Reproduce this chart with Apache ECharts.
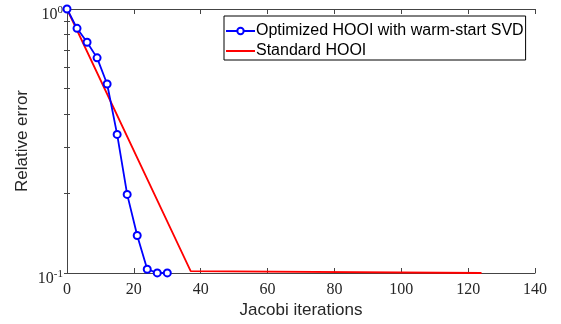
<!DOCTYPE html>
<html><head><meta charset="utf-8">
<script src="https://cdn.jsdelivr.net/npm/echarts@6/dist/echarts.min.js"></script>
<style>html,body{margin:0;padding:0;background:#fff}#c{width:561px;height:324px}</style>
</head><body><div id="c"></div>
<script>
// ---- data ----
const xTickValues = [0, 20, 40, 60, 80, 100, 120, 140];
const optIter = [0, 3, 6, 9, 12, 15, 18, 21, 24, 27, 30];
const optErr  = [1.0, 0.845, 0.748, 0.653, 0.52, 0.335, 0.1985, 0.1387, 0.1033, 0.1001, 0.1001];
const stdIter = [0, 37, 124];
const stdErr  = [1.0, 0.1016, 0.1];
const yMajorTicks = [0.1, 1];
const yMinorTicks = [0.1, 0.2, 0.3, 0.4, 0.5, 0.6, 0.7, 0.8, 0.9, 1];
const seriesNames = ['Optimized HOOI with warm-start SVD', 'Standard HOOI'];

const axisColor = '#444';
const labelColor = '#262626';
const serif = '"Liberation Serif", "DejaVu Serif", serif';
const sans = '"Liberation Sans", Arial, sans-serif';

const chart = echarts.init(document.getElementById('c'), null, {renderer: 'canvas'});
const grid = {left: 67, right: 26, top: 9, bottom: 50, containLabel: false};

function pairs(xs, ys) { return xs.map((x, i) => [x, ys[i]]); }

const option = {
  animation: false,
  backgroundColor: '#fff',
  grid: grid,
  legend: {
    orient: 'vertical',
    left: 224, top: 16,
    backgroundColor: '#fff',
    borderColor: '#000', borderWidth: 1,
    padding: [7, 2, 1, 1],
    itemGap: 4,
    itemWidth: 29, itemHeight: 8,
    textStyle: {fontFamily: sans, fontSize: 16, color: '#000', padding: [0, 0, 0, -4]},
    data: [
      {name: seriesNames[0], itemStyle: {color: '#0000ff'}},
      {name: seriesNames[1], itemStyle: {opacity: 0}}
    ]
  },
  xAxis: [{
    type: 'value', min: 0, max: 140, interval: 20,
    name: 'Jacobi iterations', nameLocation: 'middle', nameGap: 29, nameMoveOverlap: false,
    nameTextStyle: {fontFamily: sans, fontSize: 17, color: labelColor},
    axisLine: {show: true, lineStyle: {color: axisColor, width: 1}},
    axisTick: {show: true, inside: true, length: 5, lineStyle: {color: axisColor}, customValues: xTickValues},
    axisLabel: {fontFamily: serif, fontSize: 16, color: labelColor, margin: 9, customValues: xTickValues},
    splitLine: {show: false}
  }, {
    type: 'value', min: 0, max: 140, interval: 20, position: 'top',
    axisLine: {show: true, onZero: false, lineStyle: {color: axisColor, width: 1}},
    axisTick: {show: true, inside: true, length: 5, lineStyle: {color: axisColor}},
    axisLabel: {show: false},
    splitLine: {show: false}
  }],
  yAxis: [{
    type: 'log', logBase: 10, min: 0.1, max: 1,
    name: 'Relative error', nameLocation: 'middle', nameGap: 36, nameMoveOverlap: false,
    nameTextStyle: {fontFamily: sans, fontSize: 17, color: labelColor},
    axisLine: {show: true, lineStyle: {color: axisColor, width: 1}},
    axisTick: {show: true, inside: true, length: 3, lineStyle: {color: axisColor}, customValues: yMinorTicks},
    axisLabel: {
      customValues: yMajorTicks, margin: 4, padding: [12, 0, 0, 0],
      formatter: function (v) {
        const e = Math.round(Math.log10(v));
        return '{b|10}{s|' + e + '}';
      },
      rich: {
        b: {fontFamily: serif, fontSize: 16, color: labelColor},
        s: {fontFamily: serif, fontSize: 11, color: labelColor, padding: [0, 0, 9, 0]}
      }
    },
    splitLine: {show: false}
  }, {
    type: 'log', logBase: 10, min: 0.1, max: 1, position: 'right',
    axisLine: {show: true, lineStyle: {color: axisColor, width: 1}},
    axisTick: {show: true, inside: true, length: 3, lineStyle: {color: axisColor}, customValues: yMinorTicks},
    axisLabel: {show: false},
    splitLine: {show: false}
  }],
  series: [{
    name: seriesNames[0], type: 'line',
    data: pairs(optIter, optErr),
    xAxisIndex: 0, yAxisIndex: 0,
    symbol: 'emptyCircle', symbolSize: 7,
    lineStyle: {color: '#0000ff', width: 1.8},
    itemStyle: {color: '#0000ff', borderColor: '#0000ff', borderWidth: 1.6},
    z: 3
  }, {
    name: seriesNames[1], type: 'line',
    data: pairs(stdIter, stdErr),
    xAxisIndex: 0, yAxisIndex: 0,
    symbol: 'none', showSymbol: false,
    lineStyle: {color: '#ff0000', width: 1.8},
    itemStyle: {color: '#ff0000'},
    z: 2
  }]
};
chart.setOption(option);
</script>
</body></html>
